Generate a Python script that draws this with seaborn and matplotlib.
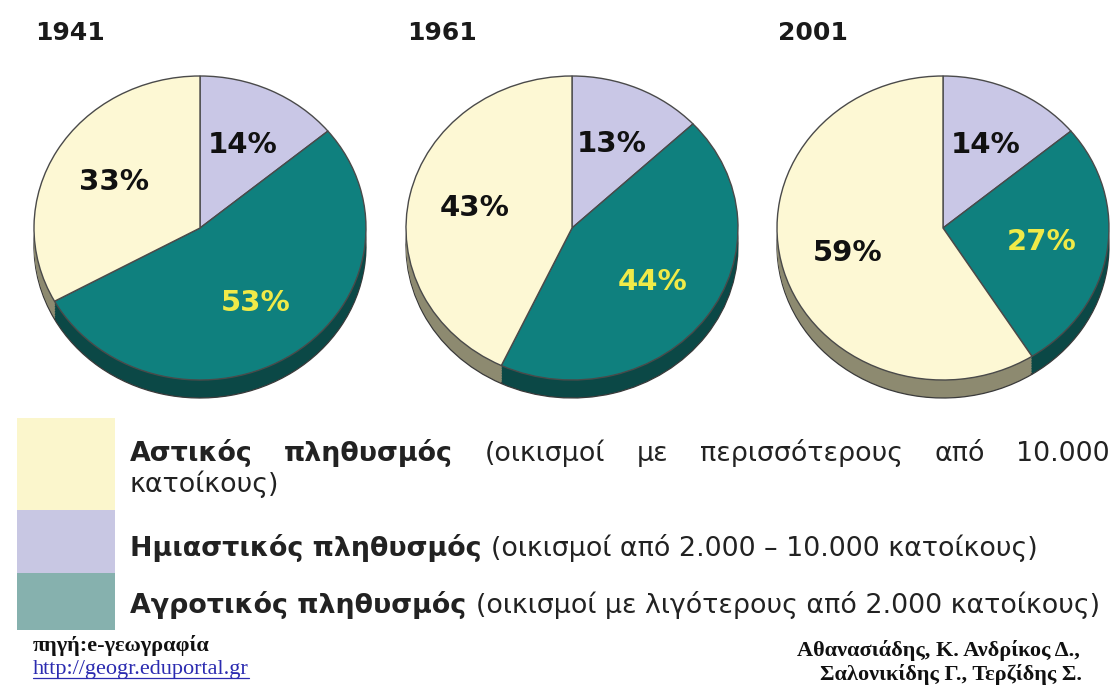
import numpy as np
import matplotlib
matplotlib.use("Agg")
import matplotlib.pyplot as plt
import seaborn as sns
from matplotlib.patches import Rectangle
from matplotlib.lines import Line2D

# ---------------- data ----------------
years = ["1941", "1961", "2001"]
# slice order clockwise from 12 o'clock: semi-urban, rural, urban
semi_urban = [14, 13, 14]
rural = [53, 44, 27]
urban = [33, 43, 59]

legend_bold = ["Αστικός πληθυσμός", "Ημιαστικός πληθυσμός", "Αγροτικός πληθυσμός"]
legend_rest = ["(οικισμοί με περισσότερους από 10.000 κατοίκους)",
               "(οικισμοί από 2.000 – 10.000 κατοίκους)",
               "(οικισμοί με λιγότερους από 2.000 κατοίκους)"]
source_left = ["πηγή:e-γεωγραφία", "http://geogr.eduportal.gr"]
source_right = ["Αθανασιάδης, Κ. Ανδρίκος Δ.,", "Σαλονικίδης Γ., Τερζίδης Σ."]

# ---------------- style ----------------
sns.set_theme(style="white")
plt.rcParams["font.family"] = ["DejaVu Sans"]

W, H = 1114, 686
fig = plt.figure(figsize=(W / 100, H / 100), dpi=100)
fig.patch.set_facecolor("white")

top_colors = ["#c9c7e6", "#0f807e", "#fdf8d4"]
side_colors = ["#8f8ea8", "#0b4846", "#8d8a70"]
label_colors = ["#111111", "#f0ea48", "#111111"]
legend_colors = ["#fbf6cc", "#c8c7e3", "#86b1ae"]

RX, RY = 166, 152
DEPTH = 18
centers_x = [200, 572, 943]
CY = 228

def px_to_fig(x, y):
    return x / W, 1 - y / H

for i, yr in enumerate(years):
    vals = [semi_urban[i], rural[i], urban[i]]
    cx = centers_x[i]
    x0, x1 = -1.03, 1.03
    y0, y1 = -1.0 - DEPTH / RY - 0.03, 1.03
    left = cx + x0 * RX
    right = cx + x1 * RX
    top = CY - y1 * RY
    bottom = CY - y0 * RY
    ax = fig.add_axes([left / W, 1 - bottom / H, (right - left) / W, (bottom - top) / H])
    depths = np.linspace(DEPTH / RY, 0.0, 12)[:-1]
    for k, d in enumerate(depths):
        ax.pie(vals, colors=side_colors, startangle=90, counterclock=False,
               center=(0, -d), radius=1,
               wedgeprops=dict(linewidth=0.9 if k == 0 else 0,
                               edgecolor="#3a3a3a"))
    wedges, texts, autotexts = ax.pie(
        vals, colors=top_colors, startangle=90, counterclock=False,
        autopct=lambda p: f"{p:.0f}%", pctdistance=0.6,
        wedgeprops=dict(edgecolor="#4a4a4a", linewidth=1.0),
        textprops=dict(fontsize=21, fontweight="bold"))
    for t, c in zip(autotexts, label_colors):
        t.set_color(c)
    ax.set_aspect("auto")
    ax.set_xlim(x0, x1)
    ax.set_ylim(y0, y1)
    ax.axis("off")
    fx, fy = px_to_fig(cx - 165, 33)
    fig.text(fx, fy, yr, fontsize=18, fontweight="bold", color="#1a1a1a",
             ha="left", va="center")

# ---------------- legend ----------------
boxes = [(418, 510), (510, 573), (573, 630)]
for (y_top, y_bot), col in zip(boxes, legend_colors):
    bx, by = px_to_fig(17, y_bot)
    fig.patches.append(Rectangle((bx, by), 98 / W, (y_bot - y_top) / H,
                                 transform=fig.transFigure, facecolor=col,
                                 edgecolor="none"))

renderer = fig.canvas.get_renderer()

def text_width(s, **kw):
    t = fig.text(0, 0, s, **kw)
    w = t.get_window_extent(renderer).width
    t.remove()
    return w

# fit legend font so that row 2 spans ~905 px
ref_w = (text_width(legend_bold[1] + " ", fontsize=10, fontweight="bold")
         + text_width(legend_rest[1], fontsize=10))
LFS = 10 * 905 / ref_w
TX = 130
baselines = [461, 556, 613]

# row 1, justified between 130 and 1110
words1 = legend_bold[0].split() + legend_rest[0].split()
nbold = len(legend_bold[0].split())
last_line_words = words1[-1:]
line_words = words1[:-1]
widths = [text_width(w, fontsize=LFS, fontweight="bold" if j < nbold else "normal")
          for j, w in enumerate(line_words)]
gap = (1110 - TX - sum(widths)) / (len(line_words) - 1)
x = TX
for j, (w, wd) in enumerate(zip(line_words, widths)):
    fx, fy = px_to_fig(x, baselines[0])
    fig.text(fx, fy, w, fontsize=LFS, fontweight="bold" if j < nbold else "normal",
             color="#222222", ha="left", va="baseline")
    x += wd + gap
fx, fy = px_to_fig(TX, baselines[0] + 31)
fig.text(fx, fy, last_line_words[0], fontsize=LFS, color="#222222",
         ha="left", va="baseline")

for r in (1, 2):
    fx, fy = px_to_fig(TX, baselines[r])
    fig.text(fx, fy, legend_bold[r], fontsize=LFS, fontweight="bold",
             color="#222222", ha="left", va="baseline")
    bw = text_width(legend_bold[r] + " ", fontsize=LFS, fontweight="bold")
    fx, fy = px_to_fig(TX + bw, baselines[r])
    fig.text(fx, fy, legend_rest[r], fontsize=LFS, color="#222222",
             ha="left", va="baseline")

# ---------------- sources ----------------
serif = ["Liberation Serif", "DejaVu Serif"]
SFS = 16
fx, fy = px_to_fig(33, 651)
fig.text(fx, fy, source_left[0], fontsize=SFS, fontweight="bold", family=serif,
         color="#111111", ha="left", va="baseline")
fx, fy = px_to_fig(33, 674)
url = fig.text(fx, fy, source_left[1], fontsize=SFS, family=serif,
               color="#2b2bb0", ha="left", va="baseline")
uw = url.get_window_extent(renderer).width
ux0, uy = px_to_fig(33, 678)
ux1, _ = px_to_fig(33 + uw, 678)
fig.lines.append(Line2D([ux0, ux1], [uy, uy], transform=fig.transFigure,
                        color="#2b2bb0", linewidth=0.9))

fx, fy = px_to_fig(1080, 656)
fig.text(fx, fy, source_right[0], fontsize=SFS, fontweight="bold", family=serif,
         color="#111111", ha="right", va="baseline")
fx, fy = px_to_fig(1082, 680)
fig.text(fx, fy, source_right[1], fontsize=SFS, fontweight="bold", family=serif,
         color="#111111", ha="right", va="baseline")

fig.savefig("out.png", dpi=100, facecolor="white")
